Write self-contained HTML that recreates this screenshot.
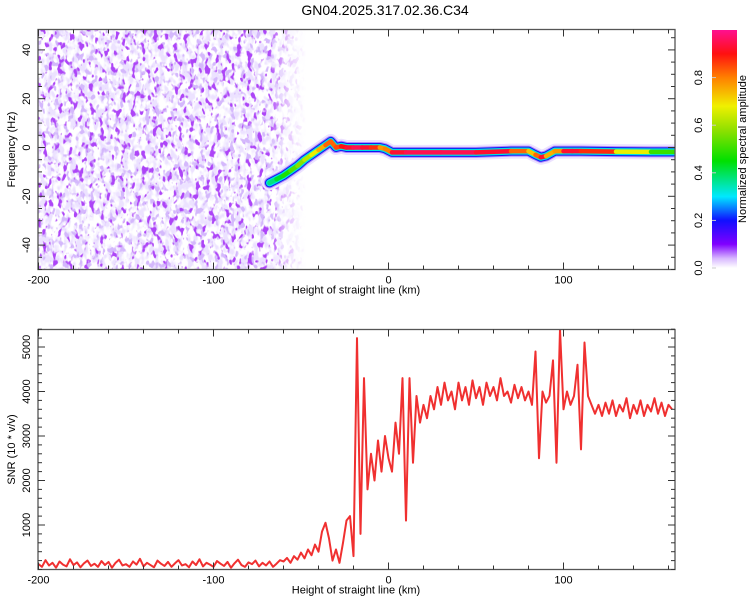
<!DOCTYPE html>
<html><head><meta charset="utf-8"><style>
html,body{margin:0;padding:0;background:#fff}
svg{display:block;font-family:"Liberation Sans",sans-serif}
</style></head><body>
<svg id="c" width="750" height="600" viewBox="0 0 750 600">
<defs>
<filter id="nDark" x="0" y="0" width="100%" height="100%">
<feTurbulence type="fractalNoise" baseFrequency="0.19 0.12" numOctaves="2" seed="7"/>
<feColorMatrix type="matrix" values="0 0 0 0 0.42  0 0 0 0 0.06  0 0 0 0 0.93  10 0 0 0 -5.9"/>
</filter>
<filter id="nLight" x="0" y="0" width="100%" height="100%">
<feTurbulence type="fractalNoise" baseFrequency="0.17 0.11" numOctaves="2" seed="3"/>
<feColorMatrix type="matrix" values="0 0 0 0 0.84  0 0 0 0 0.76  0 0 0 0 1.0  5 0 0 0 -2.2"/>
</filter>
<filter id="nMid" x="0" y="0" width="100%" height="100%">
<feTurbulence type="fractalNoise" baseFrequency="0.2 0.13" numOctaves="2" seed="11"/>
<feColorMatrix type="matrix" values="0 0 0 0 0.66  0 0 0 0 0.48  0 0 0 0 0.97  8 0 0 0 -4.5"/>
</filter>
<linearGradient id="fade" x1="0" x2="1" y1="0" y2="0">
<stop offset="0" stop-color="#fff"/><stop offset="0.86" stop-color="#fff"/><stop offset="0.93" stop-color="#fff" stop-opacity="0.35"/><stop offset="1" stop-color="#fff" stop-opacity="0"/>
</linearGradient>
<mask id="noiseMask"><rect x="38" y="29" width="268" height="241" fill="url(#fade)"/></mask>
<clipPath id="clipTop"><rect x="38" y="29.5" width="637" height="240"/></clipPath>
<clipPath id="clipBot"><rect x="38" y="329.5" width="637" height="240"/></clipPath>
<linearGradient id="cbar" x1="0" x2="0" y1="1" y2="0">
<stop offset="0" stop-color="#ffffff"/><stop offset="0.04" stop-color="#d8b8ff"/><stop offset="0.1" stop-color="#8000ff"/><stop offset="0.2" stop-color="#1010ff"/><stop offset="0.3" stop-color="#00e8ff"/><stop offset="0.45" stop-color="#00e000"/><stop offset="0.58" stop-color="#90e000"/><stop offset="0.68" stop-color="#f0f000"/><stop offset="0.8" stop-color="#ff8000"/><stop offset="0.9" stop-color="#ff1010"/><stop offset="1" stop-color="#ff1090"/>
</linearGradient>
</defs>
<text x="385" y="15" text-anchor="middle" font-size="14">GN04.2025.317.02.36.C34</text>
<g id="topPanel"></g>
<g id="botPanel"></g>
</svg>
<script>
// ---- data ----
const trackKm = [-68,-64,-60,-56,-52,-48,-44,-40,-36,-33,-30,-27,-24,-20,-15,-10,-5,-2,2,10,30,50,70,80,84,87,90,95,100,105,110,130,150,163];
const trackHz = [-14.5,-13,-11.5,-9.5,-7.5,-5,-3,-1,1,2.5,0,0.5,0,0,0,0,0,-0.5,-2,-2,-2,-2,-1.5,-1.5,-3,-4,-3.5,-1.5,-1.5,-1.5,-1.5,-1.7,-1.8,-1.8];
const trackAmp = [0.35,0.4,0.45,0.5,0.55,0.6,0.65,0.7,0.8,0.85,0.8,0.9,0.9,0.95,0.95,0.9,0.85,0.7,0.9,0.95,0.95,0.95,0.9,0.75,0.7,0.95,0.9,0.6,0.95,0.9,0.95,0.8,0.55,0.45];
const snrStartKm = -200;
const snrStepKm = 2;
const snrValues = [120,60,210,90,150,40,180,110,70,230,100,160,50,140,200,80,130,60,190,100,170,40,150,220,90,120,60,180,110,240,70,150,100,50,200,130,80,170,60,140,210,90,120,50,180,100,230,70,150,110,60,190,130,80,170,40,140,220,100,60,160,120,200,70,150,90,180,60,130,210,
180,260,150,300,220,380,250,450,320,560,400,
850,1050,700,200,450,150,600,1100,1200,300,5200,800,4300,1800,2600,2000,2900,2200,3000,2500,
2200,3300,2600,4300,1100,4300,2400,3900,3300,3700,
3400,3900,3600,4100,3700,4200,3800,4000,3600,4200,
3800,4100,3700,4250,3850,4100,3700,4200,3900,4100,
3800,4300,3900,4000,3750,4150,3850,4100,3800,4000,
3700,4900,2500,4000,3750,3900,4700,2400,5400,3600,
4000,3700,3900,4600,2700,5100,3900,3700,3500,3700,
3450,3750,3500,3800,3450,3700,3550,3850,3400,3700,
3500,3800,3450,3700,3550,3850,3500,3750,3450,3700,3600];
const xTickLabels = [-200,-100,0,100];
const hzTickLabels = [-40,-20,0,20,40];
const snrTickLabels = [1000,2000,3000,4000,5000];
const cbarTickLabels = ["0.0","0.2","0.4","0.6","0.8"];

// ---- axes ----
const NS='http://www.w3.org/2000/svg';
const L=38,R=675;
const xS=km=>388.5+(km)*1.75;
const hzS=hz=>147.5-hz*2.44;
const TT=29.5,TB=269.5,BT=329.5,BB=569.5;
const snrS=v=>BB-v*0.0445;
function mk(tag,attrs,parent){const e=document.createElementNS(NS,tag);for(const k in attrs)e.setAttribute(k,attrs[k]);parent.appendChild(e);return e;}
const topG=document.getElementById('topPanel'),botG=document.getElementById('botPanel');

// noise texture
const ng=mk('g',{mask:'url(#noiseMask)','clip-path':'url(#clipTop)'},topG);


mk('rect',{x:38,y:29.5,width:268,height:240,filter:'url(#nLight)'},ng);
mk('rect',{x:38,y:29.5,width:268,height:240,filter:'url(#nMid)'},ng);
mk('rect',{x:38,y:29.5,width:268,height:240,filter:'url(#nDark)'},ng);

function ampColor(a){
  const st=[[0,[255,255,255]],[0.04,[216,184,255]],[0.1,[128,0,255]],[0.2,[16,16,255]],[0.3,[0,232,255]],[0.45,[0,224,0]],[0.58,[144,224,0]],[0.68,[240,240,0]],[0.8,[255,128,0]],[0.9,[255,16,16]],[1,[255,16,144]]];
  for(let i=1;i<st.length;i++){if(a<=st[i][0]){const t=(a-st[i-1][0])/(st[i][0]-st[i-1][0]);const c=st[i-1][1].map((v,j)=>Math.round(v+(st[i][1][j]-v)*t));return 'rgb('+c.join(',')+')';}}
  return 'rgb(255,16,144)';
}
// track
const tg=mk('g',{'clip-path':'url(#clipTop)'},topG);


const pts=trackKm.map((k,i)=>xS(k)+','+hzS(trackHz[i])).join(' ');
mk('polyline',{points:pts,fill:'none',stroke:'#ece2ff','stroke-width':15,'stroke-linejoin':'round','stroke-linecap':'round'},tg);
mk('polyline',{points:pts,fill:'none',stroke:'#b088ff','stroke-width':11,'stroke-linejoin':'round','stroke-linecap':'round'},tg);
mk('polyline',{points:pts,fill:'none',stroke:'#1018f0','stroke-width':9,'stroke-linejoin':'round','stroke-linecap':'round'},tg);
mk('polyline',{points:pts,fill:'none',stroke:'#00e0e0','stroke-width':7,'stroke-linejoin':'round','stroke-linecap':'round'},tg);
for(let i=0;i<trackKm.length-1;i++){
  const s=mk('line',{x1:xS(trackKm[i]),y1:hzS(trackHz[i]),x2:xS(trackKm[i+1]),y2:hzS(trackHz[i+1]),stroke:ampColor((trackAmp[i]+trackAmp[i+1])/2),'stroke-width':4.5,'stroke-linecap':'round'},tg);
  
  
}

function frame(g,yT,yB,yScale,minorStep,minorFrom,minorTo,yLabels,yTitle){
  const f=mk('rect',{x:L,y:yT,width:R-L,height:yB-yT,fill:'none',stroke:'#555','stroke-width':1.3},g);
  
  
  for(let k=-200;k<=160;k+=20){const x=xS(k);const len=(k%100===0)?7:4;
    mk('line',{x1:x,y1:yB,x2:x,y2:yB-len,stroke:'#333'},g);mk('line',{x1:x,y1:yT,x2:x,y2:yT+len,stroke:'#333'},g);}
  xTickLabels.forEach(k=>{const t=mk('text',{x:xS(k),y:yB+14,'text-anchor':'middle','font-size':11},g);t.textContent=k;});
  const xt=mk('text',{x:356,y:yB+24,'text-anchor':'middle','font-size':11},g);xt.textContent='Height of straight line (km)';
  
  for(let v=minorFrom;v<=minorTo;v+=minorStep){const y=yScale(v);if(y<yT-0.5||y>yB+0.5)continue;const major=yLabels.includes(v);const len=major?7:4;
    mk('line',{x1:L,y1:y,x2:L+len,y2:y,stroke:'#333'},g);mk('line',{x1:R,y1:y,x2:R-len,y2:y,stroke:'#333'},g);}
  yLabels.forEach(v=>{const y=yScale(v);const t=mk('text',{x:0,y:0,'text-anchor':'middle','font-size':11,transform:'translate(30,'+y+') rotate(-90)'},g);t.textContent=v;});
  const yt=mk('text',{x:0,y:0,'text-anchor':'middle','font-size':11,transform:'translate(15,'+(yT+yB)/2+') rotate(-90)'},g);yt.textContent=yTitle;
  
}
frame(topG,TT,TB,hzS,5,-50,50,hzTickLabels,'Frequency (Hz)');

// colorbar
const cb=mk('rect',{x:712,y:30,width:25,height:238,fill:'url(#cbar)'},topG);


cbarTickLabels.forEach(s=>{const v=parseFloat(s);const y=268-v*238;
  mk('line',{x1:712,y1:y,x2:716,y2:y,stroke:'#ccc'},topG);
  const t=mk('text',{x:0,y:0,'text-anchor':'middle','font-size':11,transform:'translate(702,'+y+') rotate(-90)'},topG);t.textContent=s;
  });
const ct=mk('text',{x:0,y:0,'text-anchor':'middle','font-size':11,transform:'translate(746,149) rotate(-90)'},topG);ct.textContent='Normalized spectral amplitude';


// SNR line
const sg=mk('g',{'clip-path':'url(#clipBot)'},botG);
const sp=snrValues.map((v,i)=>xS(snrStartKm+i*snrStepKm)+','+snrS(v)).join(' ');
const sl=mk('polyline',{points:sp,fill:'none',stroke:'#f03030','stroke-width':2,'stroke-linejoin':'round'},sg);


frame(botG,BT,BB,snrS,200,0,5400,snrTickLabels,'SNR (10 * v/v)');
</script>
</body></html>
